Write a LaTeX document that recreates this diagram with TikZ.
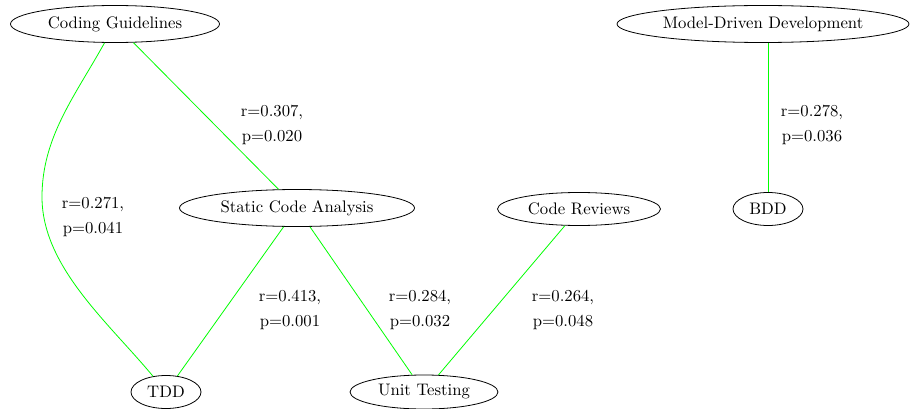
\documentclass[tikz,border=0pt]{standalone}
\usetikzlibrary{shapes.geometric}
\newcommand{\sz}[1]{\scalebox{1.67}{\fontsize{10}{12}\selectfont #1}}
\newcommand{\lb}[2]{\scalebox{1.67}{\fontsize{10}{12}\selectfont\renewcommand{\arraystretch}{1.25}\begin{tabular}{@{}c@{}}#1\\#2\end{tabular}}}
\begin{document}
\begin{tikzpicture}[x=1pt,y=-1pt,
  ell/.style={ellipse,draw=black,line width=0.8pt,inner sep=0pt},
  lbl/.style={inner sep=0pt},
  edge/.style={draw={rgb,255:red,0;green,255;blue,0},line width=0.8pt}]
\useasboundingbox (0,0) rectangle (910,409);
\node[ell,minimum width=209pt,minimum height=37pt] (cg) at (115,24) {\sz{Coding Guidelines}};
\node[ell,minimum width=292pt,minimum height=37pt] (mdd) at (763,24) {\sz{Model-Driven Development}};
\node[ell,minimum width=235pt,minimum height=37pt] (sca) at (297,208) {\sz{Static Code Analysis}};
\node[ell,minimum width=163pt,minimum height=33pt] (cr) at (579,209) {\sz{Code Reviews}};
\node[ell,minimum width=70pt,minimum height=33pt] (bdd) at (768,209) {\sz{BDD}};
\node[ell,minimum width=70pt,minimum height=33pt] (tdd) at (166,392) {\sz{TDD}};
\node[ell,minimum width=148pt,minimum height=34pt] (ut) at (424,392) {\sz{Unit Testing}};
\coordinate (bend) at (42,197);

\draw[edge] (cg) .. controls (75,96) and (42,137) .. (bend)
  .. controls (42,267) and (109,323) .. (tdd);
\draw[edge] (cg) -- (sca);
\draw[edge] (sca) -- (tdd);
\draw[edge] (sca) -- (ut);
\draw[edge] (cr) -- (ut);
\draw[edge] (bdd) -- (bdd |- mdd.south);

\node[lbl] (l1) at (272,124) {\lb{r=0.307,}{p=0.020}};
\node[lbl] (l2) at (93,216) {\lb{r=0.271,}{p=0.041}};
\node[lbl] (l3) at (290,309) {\lb{r=0.413,}{p=0.001}};
\node[lbl] (l4) at (420,309) {\lb{r=0.284,}{p=0.032}};
\node[lbl] (l5) at (563,309) {\lb{r=0.264,}{p=0.048}};
\node[lbl] (l6) at (812,124) {\lb{r=0.278,}{p=0.036}};
\end{tikzpicture}
\end{document}
